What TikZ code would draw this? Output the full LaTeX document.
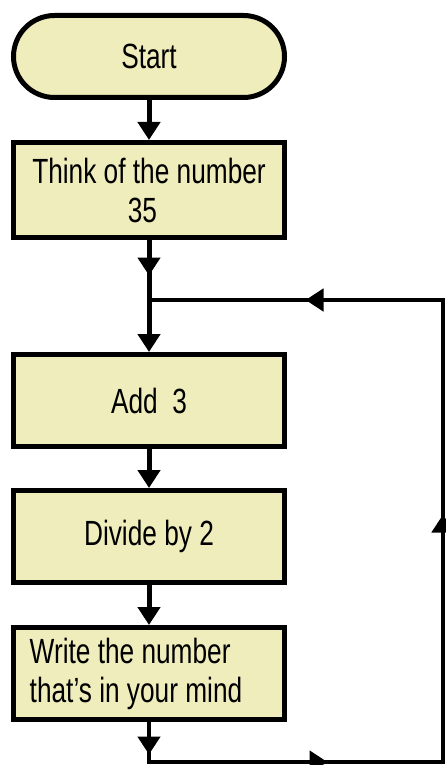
\documentclass[tikz,border=0pt]{standalone}
\usepackage{fontspec}
\setmainfont[FakeStretch=0.75]{Liberation Sans}
\usetikzlibrary{arrows.meta,decorations.markings}
\definecolor{boxfill}{RGB}{238,237,187}
\tikzset{
  tip/.tip={Triangle[width=22pt,length=18pt]},
  stepbox/.style={draw, line width=5pt, fill=boxfill, rectangle, minimum width=271pt,
    minimum height=92pt, inner sep=0pt, align=center,
    font=\fontsize{35}{39}\selectfont},
  terminal/.style={stepbox, rounded corners=41pt, minimum height=82pt},
  conn/.style={line width=5pt},
  loopline/.style={line width=4.5pt},
  arrowat/.style={postaction={decorate}, decoration={markings,
    mark=at position #1 with {\arrow{tip}}}}
}
\begin{document}
\begin{tikzpicture}[x=1pt,y=-1pt]
\useasboundingbox (0,0) rectangle (446,765);
\node[terminal] (start) at (149,56.5) {Start};
\node[stepbox, minimum height=95pt] (think) at (149,190) {Think of the number\\35\hspace*{13pt}};
\node[stepbox] (add) at (149,400.5) {Add\ \ 3};
\node[stepbox] (divide) at (149,536.5) {Divide by 2};
\node[stepbox, align=left] (write) at (149,673.5) {Write the number\\that{\char"27}s in your mind\hspace*{26pt}};
\coordinate (J) at (149,300);
\coordinate (c1) at (149,762);
\coordinate (c2) at (443,762);
\coordinate (c3) at (443,300);
\draw[conn, -tip] (start) -- (think);
\draw[conn, arrowat=35.5pt] (think) -- (J);
\draw[conn, -tip] (J) -- (add);
\draw[conn, -tip] (add) -- (divide);
\draw[conn, -tip] (divide) -- (write);
\draw[loopline, postaction={decorate}, decoration={markings,
    mark=at position 32.5pt with {\arrow{tip}},
    mark=at position 218.5pt with {\arrow{tip}},
    mark=at position 581.5pt with {\arrow{tip}},
    mark=at position 933.5pt with {\arrow{tip}}}]
  (write) -- (c1) -- (c2) -- (c3) -- (J);
\end{tikzpicture}
\end{document}
